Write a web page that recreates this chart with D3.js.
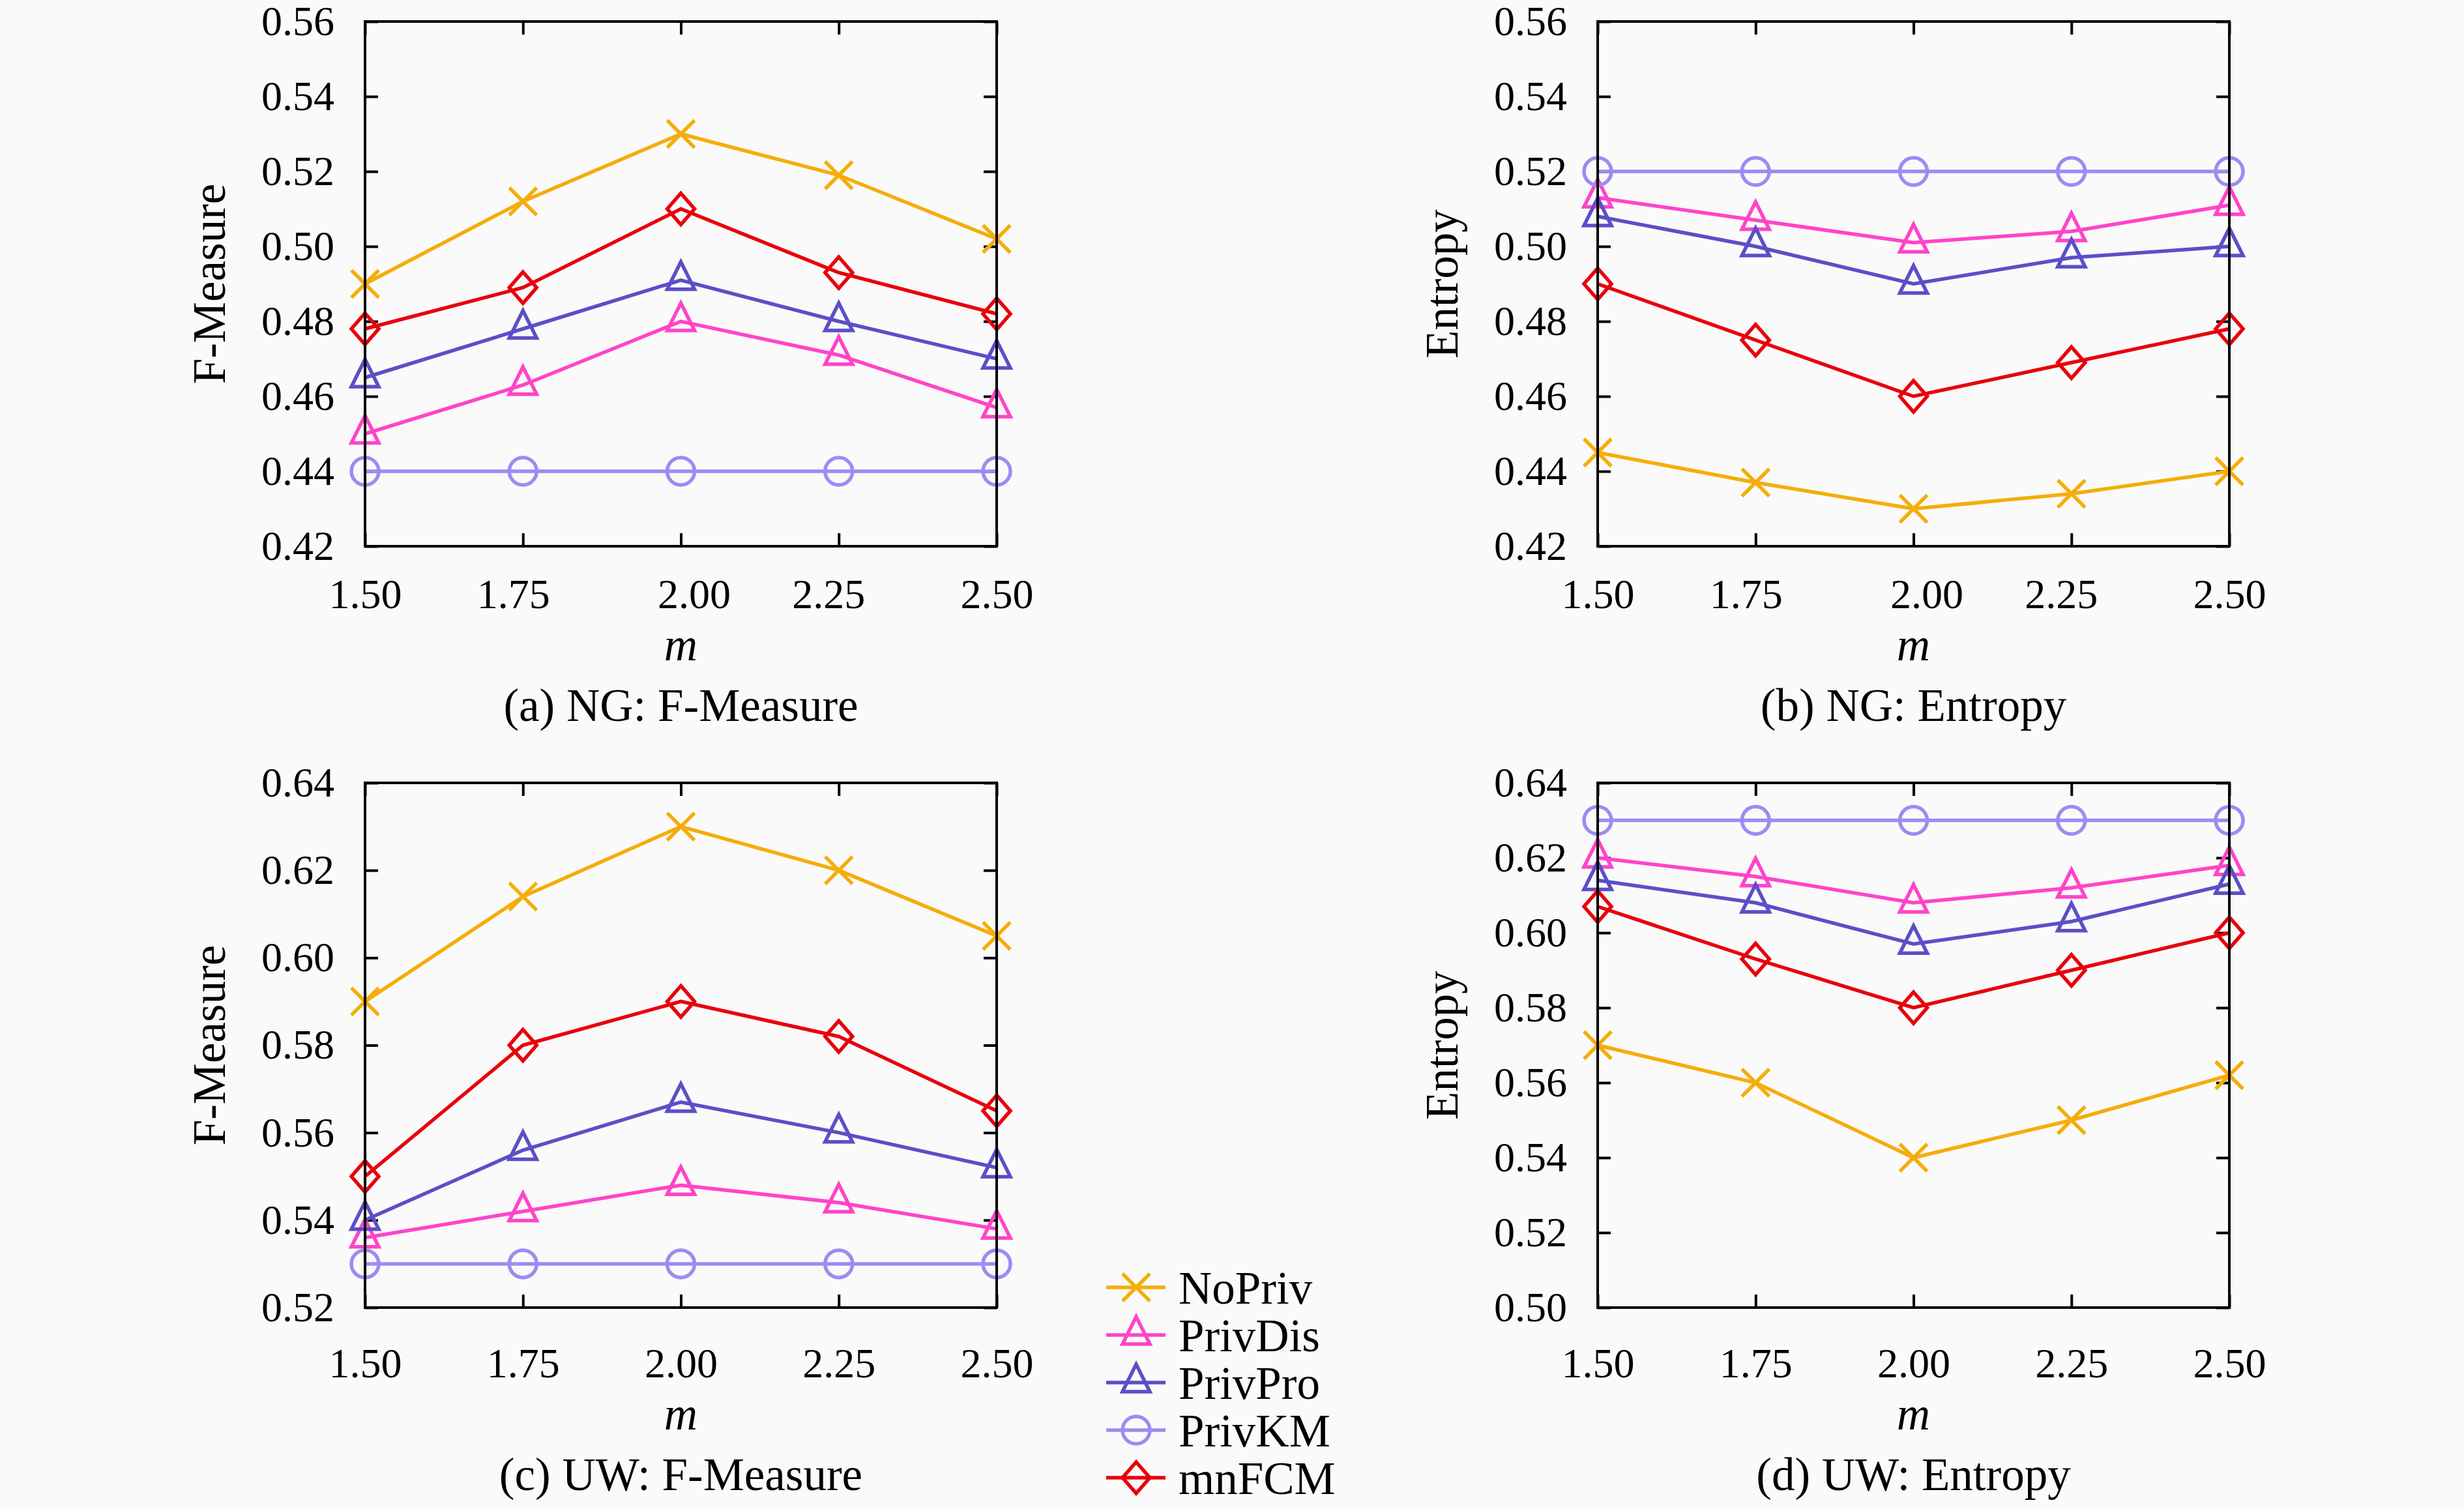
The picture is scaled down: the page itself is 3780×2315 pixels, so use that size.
<!DOCTYPE html>
<html>
<head>
<meta charset="utf-8">
<script src="https://cdn.jsdelivr.net/npm/d3@7"></script>
<style>
  body { margin: 0; background: #fafafa; }
  text { font-family: "Liberation Serif", "DejaVu Serif", serif; }
</style>
</head>
<body>
<script>
// x values (fuzzifier m)
var mValues = [1.50, 1.75, 2.00, 2.25, 2.50];
var seriesNames = ["NoPriv", "PrivDis", "PrivPro", "PrivKM", "mnFCM"];

// one row per series, in seriesNames order
var ngFMeasure = [
    [0.490, 0.512, 0.530, 0.519, 0.502],
    [0.450, 0.463, 0.480, 0.471, 0.457],
    [0.465, 0.478, 0.491, 0.480, 0.470],
    [0.440, 0.440, 0.440, 0.440, 0.440],
    [0.478, 0.489, 0.510, 0.493, 0.482]
];
var ngEntropy = [
    [0.445, 0.437, 0.430, 0.434, 0.440],
    [0.513, 0.507, 0.501, 0.504, 0.511],
    [0.508, 0.500, 0.490, 0.497, 0.500],
    [0.520, 0.520, 0.520, 0.520, 0.520],
    [0.490, 0.475, 0.460, 0.469, 0.478]
];
var uwFMeasure = [
    [0.590, 0.614, 0.630, 0.620, 0.605],
    [0.536, 0.542, 0.548, 0.544, 0.538],
    [0.540, 0.556, 0.567, 0.560, 0.552],
    [0.530, 0.530, 0.530, 0.530, 0.530],
    [0.550, 0.580, 0.590, 0.582, 0.565]
];
var uwEntropy = [
    [0.570, 0.560, 0.540, 0.550, 0.562],
    [0.620, 0.615, 0.608, 0.612, 0.618],
    [0.614, 0.608, 0.597, 0.603, 0.613],
    [0.630, 0.630, 0.630, 0.630, 0.630],
    [0.607, 0.593, 0.580, 0.590, 0.600]
];

// tick labels
var ngTicks = [0.42, 0.44, 0.46, 0.48, 0.50, 0.52, 0.54, 0.56];
var uwFTicks = [0.52, 0.54, 0.56, 0.58, 0.60, 0.62, 0.64];
var uwETicks = [0.50, 0.52, 0.54, 0.56, 0.58, 0.60, 0.62, 0.64];

var colors = ["#f5ad0a", "#ff44c8", "#5b4fc7", "#9c8cf2", "#e8000b"];
var markers = ["cross", "triangle", "triangle", "circle", "diamond"];

var plotW = 969, plotH = 805;
var tickFont = 64, labelFont = 71;

var svg = d3.select("body")
    .append("svg")
    .attr("width", 3780)
    .attr("height", 2315)
    .style("background", "#fafafa");

var panels = [
    { caption: "(a) NG: F-Measure", yLabel: "F-Measure", data: ngFMeasure, ticks: ngTicks,
      left: 560, top: 33, shift: [0, -15, 20, -16, 0], gap: 0 },
    { caption: "(b) NG: Entropy", yLabel: "Entropy", data: ngEntropy, ticks: ngTicks,
      left: 2451, top: 33, shift: [0, -15, 20, -16, 0], gap: 0 },
    { caption: "(c) UW: F-Measure", yLabel: "F-Measure", data: uwFMeasure, ticks: uwFTicks,
      left: 560, top: 1201, shift: [0, 0, 0, 0, 0], gap: 12 },
    { caption: "(d) UW: Entropy", yLabel: "Entropy", data: uwEntropy, ticks: uwETicks,
      left: 2451, top: 1201, shift: [0, 0, 0, 0, 0], gap: 12 }
];

// draw a marker of the given kind centred on (0,0)
function drawMarker(g, kind, color) {
    if (kind === "circle") {
        g.append("circle").attr("r", 21)
            .attr("fill", "none").attr("stroke", color).attr("stroke-width", 5.5);
        return;
    }
    var d;
    if (kind === "cross") d = "M-21,-21L21,21M-21,21L21,-21";
    else if (kind === "triangle") d = "M0,-28L21,14L-21,14Z";
    else d = "M0,-24L21,0L0,24L-21,0Z";
    g.append("path").attr("d", d)
        .attr("fill", "none").attr("stroke", color)
        .attr("stroke-width", 5.5).attr("stroke-linejoin", "miter");
}

panels.forEach(function(p) {
    var g = svg.append("g")
        .attr("transform", "translate(" + p.left + "," + p.top + ")");

    var xScale = d3.scaleLinear().domain([1.5, 2.5]).range([0, plotW]);
    var yScale = d3.scaleLinear()
        .domain([p.ticks[0], p.ticks[p.ticks.length - 1]])
        .range([plotH, 0]);

    // axes with inward ticks on all four sides
    var left = g.append("g")
        .call(d3.axisLeft(yScale).tickValues(p.ticks).tickSize(-20).tickPadding(47)
            .tickFormat(d3.format(".2f")));
    var right = g.append("g")
        .attr("transform", "translate(" + plotW + ",0)")
        .call(d3.axisRight(yScale).tickValues(p.ticks).tickSize(-20).tickFormat(""));
    var bottom = g.append("g")
        .attr("transform", "translate(0," + plotH + ")")
        .call(d3.axisBottom(xScale).tickValues(mValues).tickSize(-20)
            .tickPadding(50 + p.gap).tickFormat(d3.format(".2f")));
    var top = g.append("g")
        .call(d3.axisTop(xScale).tickValues(mValues).tickSize(-20).tickFormat(""));

    [left, right, bottom, top].forEach(function(ax) {
        ax.select(".domain").remove();
        ax.selectAll("line").attr("stroke", "#000").attr("stroke-width", 4);
        ax.selectAll("text")
            .attr("fill", "#000")
            .style("font-size", tickFont + "px")
            .style("font-family", "'Liberation Serif', serif");
    });
    bottom.selectAll("text").attr("dx", function(d, i) { return p.shift[i]; });

    // series lines and markers
    var valueline = d3.line()
        .x(function(d, i) { return xScale(mValues[i]); })
        .y(function(d) { return yScale(d); });

    p.data.forEach(function(vals, s) {
        g.append("path")
            .datum(vals)
            .attr("d", valueline)
            .attr("fill", "none")
            .attr("stroke", colors[s])
            .attr("stroke-width", 5.5);
        g.selectAll(".mk" + s)
            .data(vals)
            .enter().append("g")
            .attr("class", "mk" + s)
            .attr("transform", function(d, i) {
                return "translate(" + xScale(mValues[i]) + "," + yScale(d) + ")";
            })
            .each(function() { drawMarker(d3.select(this), markers[s], colors[s]); });
    });

    // frame
    g.append("rect")
        .attr("width", plotW).attr("height", plotH)
        .attr("fill", "none").attr("stroke", "#000").attr("stroke-width", 4);

    // y axis title
    g.append("text")
        .attr("transform", "translate(-215," + plotH / 2 + ") rotate(-90)")
        .attr("text-anchor", "middle")
        .style("font-size", labelFont + "px")
        .text(p.yLabel);

    // x axis title
    g.append("text")
        .attr("x", plotW / 2)
        .attr("y", plotH + 175 + p.gap)
        .attr("text-anchor", "middle")
        .style("font-size", labelFont + "px")
        .style("font-style", "italic")
        .text("m");

    // caption
    g.append("text")
        .attr("x", plotW / 2)
        .attr("y", plotH + 268 + p.gap)
        .attr("text-anchor", "middle")
        .style("font-size", labelFont + "px")
        .text(p.caption);
});

// legend
var legend = svg.append("g").attr("transform", "translate(1697,1975)");
seriesNames.forEach(function(name, s) {
    var row = legend.append("g").attr("transform", "translate(0," + s * 73 + ")");
    row.append("line")
        .attr("x1", 0).attr("x2", 91)
        .attr("stroke", colors[s]).attr("stroke-width", 5.5);
    var mk = row.append("g").attr("transform", "translate(46,0)");
    drawMarker(mk, markers[s], colors[s]);
    row.append("text")
        .attr("x", 111)
        .attr("dy", "0.35em")
        .style("font-size", labelFont + "px")
        .text(name);
});
</script>
</body>
</html>
